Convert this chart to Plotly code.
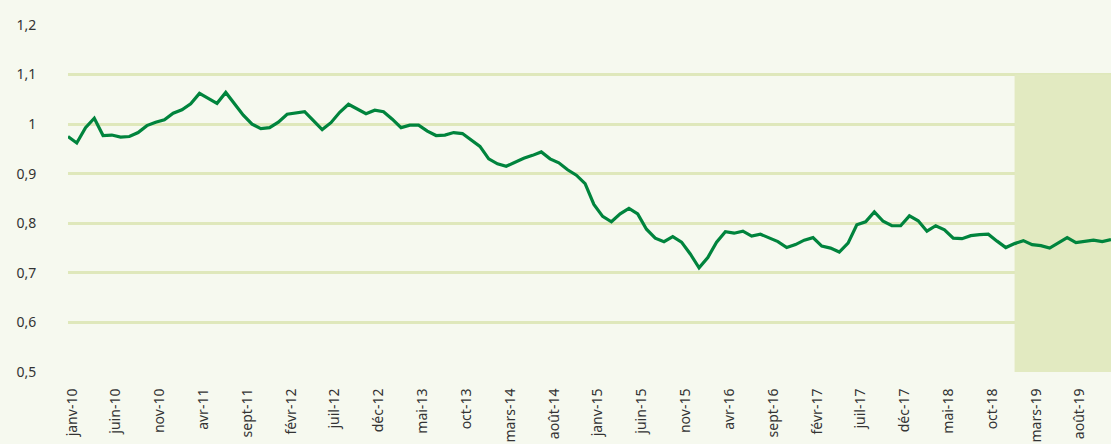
import plotly.graph_objects as go

months_fr = ["janv", "févr", "mars", "avr", "mai", "juin", "juil", "août", "sept", "oct", "nov", "déc"]
years = list(range(10, 20))
categories = [f"{m}-{y:02d}" for y in years for m in months_fr]

values = [
    0.975, 0.962, 0.993, 1.012, 0.977, 0.978, 0.974, 0.975, 0.983, 0.997,
    1.004, 1.009, 1.022, 1.029, 1.041, 1.062, 1.052, 1.042, 1.064, 1.040,
    1.018, 1.000, 0.991, 0.993, 1.004, 1.020, 1.023, 1.025, 1.007, 0.989,
    1.003, 1.024, 1.040, 1.031, 1.021, 1.028, 1.025, 1.010, 0.993, 0.998,
    0.998, 0.986, 0.977, 0.978, 0.983, 0.981, 0.968, 0.955, 0.930, 0.920,
    0.915, 0.923, 0.931, 0.937, 0.944, 0.930, 0.922, 0.908, 0.897, 0.880,
    0.838, 0.814, 0.803, 0.819, 0.830, 0.819, 0.788, 0.770, 0.763, 0.773,
    0.762, 0.738, 0.710, 0.731, 0.762, 0.783, 0.780, 0.784, 0.774, 0.778,
    0.770, 0.763, 0.751, 0.757, 0.766, 0.771, 0.754, 0.750, 0.742, 0.760,
    0.797, 0.803, 0.823, 0.804, 0.795, 0.795, 0.815, 0.805, 0.784, 0.795,
    0.787, 0.770, 0.769, 0.775, 0.777, 0.778, 0.764, 0.751, 0.759, 0.765,
    0.757, 0.755, 0.750, 0.760, 0.771, 0.761, 0.763, 0.766, 0.763, 0.767,
]

tick_step = 5
tick_idx = list(range(0, len(categories), tick_step))
tick_labels = [categories[i] for i in tick_idx]

y_ticks = [0.5, 0.6, 0.7, 0.8, 0.9, 1.0, 1.1, 1.2]
y_labels = ["0,5", "0,6", "0,7", "0,8", "0,9", "1", "1,1", "1,2"]

shade_start = categories.index("janv-19")
shade_top = 1.1

x = list(range(len(categories)))

fig = go.Figure()
fig.add_trace(go.Scatter(
    x=x, y=values, mode="lines",
    line=dict(color="#00843d", width=3.2),
    customdata=categories,
    hovertemplate="%{customdata}: %{y:.3f}<extra></extra>",
    showlegend=False,
))

fig.add_shape(
    type="rect", xref="x", yref="y",
    x0=shade_start, x1=len(categories) - 1 + 0.5, y0=0.5, y1=shade_top,
    fillcolor="#e2eac1", line=dict(width=0), layer="between",
)

fig.update_layout(
    width=1111, height=444,
    margin=dict(l=68, r=0, t=25, b=72),
    paper_bgcolor="#f6f9ef", plot_bgcolor="#f6f9ef",
    font=dict(family="Noto Sans, Lato, sans-serif", color="#333333", size=13),
)
fig.update_xaxes(
    range=[0, len(categories) - 1],
    tickvals=tick_idx, ticktext=tick_labels, tickangle=-90,
    showgrid=False, zeroline=False, showline=False,
    ticks="outside", ticklen=10, tickcolor="rgba(0,0,0,0)",
    ticklabelshift=4,
    tickfont=dict(size=14, color="#333333"),
)
fig.update_yaxes(
    range=[0.5, 1.2],
    tickvals=y_ticks, ticktext=y_labels,
    showgrid=True, gridcolor="#dfe8bb", gridwidth=2.5,
    zeroline=False, showline=False,
    ticks="outside", ticklen=28, tickcolor="rgba(0,0,0,0)",
    tickfont=dict(size=14, color="#333333"),
)

fig.write_html(
    "out.html",
    config={"displayModeBar": False},
    post_script="document.body.style.margin='0';document.body.style.background='#f6f9ef';document.body.style.overflow='hidden';",
)
